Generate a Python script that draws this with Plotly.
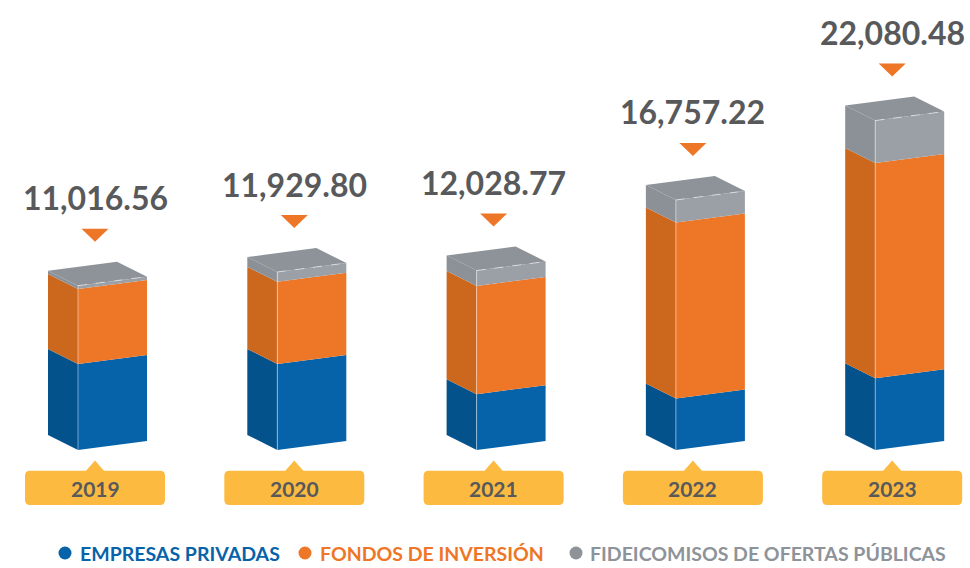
import plotly.graph_objects as go

# Portfolio by year (stacked), totals shown above each column
years = ["2019", "2020", "2021", "2022", "2023"]
totals = [11016.56, 11929.80, 12028.77, 16757.22, 22080.48]
empresas = [5760, 5770, 3740, 3450, 4810]
fondos = [5030, 5500, 7260, 11800, 14420]
fideicomisos = [round(t - e - f, 2) for t, e, f in zip(totals, empresas, fondos)]

series_names = ["EMPRESAS PRIVADAS", "FONDOS DE INVERSIÓN", "FIDEICOMISOS DE OFERTAS PÚBLICAS"]

# face colours: (front, side)
BLUE = ("#0763A9", "#03528B")
ORANGE = ("#EE7627", "#CC671E")
GRAY = ("#9BA0A6", "#8C9197")
GRAY_TOP = "#8E9399"
GOLD = "#FCBB40"
TEXT = "#58595B"
LEGEND_COLORS = ["#0763A9", "#EE7627", "#8E9399"]

W, H = 970, 568
PX_X = 199.3          # pixels per category step
PX_Y = 0.01492        # pixels per value unit
BASE_PX = 450         # pixel row of value 0

x0 = -97.5 / PX_X
y0 = -(H - BASE_PX) / PX_Y
xrange = [x0, x0 + W / PX_X]
yrange = [y0, y0 + H / PX_Y]

def dxu(px):
    return px / PX_X

def dyu(px):
    return px / PX_Y

front_w = dxu(69)
depth_x = dxu(30)
depth_y = dyu(15)
slant = dyu(9)

fig = go.Figure()

def poly(xs, ys, color):
    fig.add_trace(go.Scatter(x=xs + [xs[0]], y=ys + [ys[0]], mode="lines", fill="toself",
                             fillcolor=color, line=dict(width=0, color=color),
                             hoverinfo="skip", showlegend=False))

def edge(xs, ys, color, dash="solid", width=1):
    fig.add_trace(go.Scatter(x=xs, y=ys, mode="lines", line=dict(width=width, color=color, dash=dash),
                             hoverinfo="skip", showlegend=False))

for i, yr in enumerate(years):
    c = i
    xl = c - (front_w + depth_x) / 2 + depth_x
    xr = xl + front_w
    xs = xl - depth_x
    segs = [(empresas[i], BLUE), (fondos[i], ORANGE), (fideicomisos[i], GRAY)]
    base = 0.0
    for val, (fc, sc) in segs:
        top = base + val
        # left side face
        poly([xl, xl, xs, xs], [base, top, top + depth_y, base + depth_y], sc)
        # front face
        poly([xl, xr, xr, xl], [base, base + slant, top + slant, top], fc)
        base = top
    T = totals[i]
    # top face
    poly([xl, xr, xr - depth_x, xs], [T, T + slant, T + slant + depth_y, T + depth_y], GRAY_TOP)
    edge([xl, xl], [0, T], "rgba(255,255,255,0.45)")
    edge([xl, xr], [T, T + slant], "rgba(255,255,255,0.55)", dash="dash")

    # marker arrow and total label
    ac = c - dxu(2.5)
    a_bot = T + slant + depth_y + dyu(20)
    a_top = a_bot + dyu(13)
    poly([ac - dxu(13.5), ac + dxu(13.5), ac], [a_top, a_top, a_bot], "#EE7627")
    fig.add_annotation(x=ac, y=a_top, text=f"<b>{T:,.2f}</b>", showarrow=False,
                       xanchor="center", yanchor="middle", yshift=31,
                       font=dict(family="Lato", size=32, color=TEXT))

    # year tag
    bc = c - dxu(2.5)
    hw = dxu(70)
    yt, yb = dyu(-20.7), dyu(-55)
    rx, ry = dxu(5), dyu(5)
    tip_y = dyu(-10.5)
    tw = dxu(9)
    path = (f"M {bc-hw+rx},{yt} L {bc-tw},{yt} L {bc},{tip_y} L {bc+tw},{yt} L {bc+hw-rx},{yt} "
            f"Q {bc+hw},{yt} {bc+hw},{yt-ry} L {bc+hw},{yb+ry} Q {bc+hw},{yb} {bc+hw-rx},{yb} "
            f"L {bc-hw+rx},{yb} Q {bc-hw},{yb} {bc-hw},{yb+ry} L {bc-hw},{yt-ry} "
            f"Q {bc-hw},{yt} {bc-hw+rx},{yt} Z")
    fig.add_shape(type="path", path=path, xref="x", yref="y", fillcolor=GOLD,
                  line=dict(width=0), layer="below")
    fig.add_annotation(x=bc, y=(yt + yb) / 2, text=f"<b>{yr}</b>", showarrow=False,
                       xanchor="center", yanchor="middle", yshift=-1,
                       font=dict(family="Lato", size=21, color=TEXT))

# legend row
leg_y = 553
dot_x = [65, 305, 576]
txt_x = [78, 318, 588]
for name, col, dx_, tx in zip(series_names, LEGEND_COLORS, dot_x, txt_x):
    r = 6.5
    fig.add_shape(type="circle", xref="paper", yref="paper",
                  x0=(dx_ - r) / W, x1=(dx_ + r) / W,
                  y0=1 - (leg_y + r) / H, y1=1 - (leg_y - r) / H,
                  fillcolor=col, line=dict(width=0))
    fig.add_annotation(xref="paper", yref="paper", x=tx / W, y=1 - leg_y / H,
                       text=f"<b>{name}</b>", showarrow=False, xanchor="left", yanchor="middle",
                       font=dict(family="Lato", size=19.5, color=col))

fig.update_layout(
    width=W, height=H,
    margin=dict(l=0, r=0, t=0, b=0),
    paper_bgcolor="white", plot_bgcolor="white",
    xaxis=dict(range=xrange, visible=False, fixedrange=True),
    yaxis=dict(range=yrange, visible=False, fixedrange=True),
    showlegend=False,
)

fig.write_html("out.html")
